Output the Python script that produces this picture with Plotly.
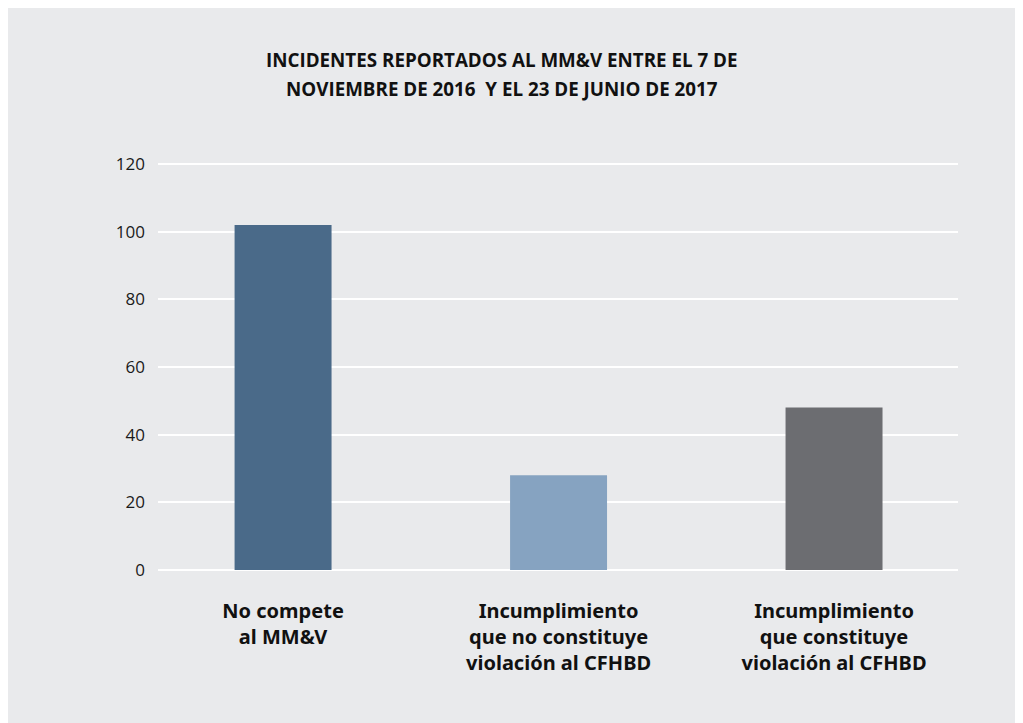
import plotly.graph_objects as go

# datos
categorias = [
    "No compete<br>al MM&V",
    "Incumplimiento<br>que no constituye<br>violación al CFHBD",
    "Incumplimiento<br>que constituye<br>violación al CFHBD",
]
incidentes = [102, 28, 48]
colores = ["#4a6a89", "#86a3c1", "#6c6d71"]
titulo = [
    "INCIDENTES REPORTADOS AL MM&V ENTRE EL 7 DE",
    "NOVIEMBRE DE 2016  Y EL 23 DE JUNIO DE 2017",
]
y_ticks = [0, 20, 40, 60, 80, 100, 120]

fondo = "#e9eaec"

fig = go.Figure()
fig.add_trace(go.Bar(
    x=list(range(len(categorias))),
    y=incidentes,
    marker=dict(color=colores, line=dict(width=0)),
    width=0.352,
    hoverinfo="y",
))

# titulo en dos lineas, con mas interlineado que el de plotly
for texto, yy in zip(titulo, [1.2525, 1.181]):
    fig.add_annotation(text=f"<b>{texto}</b>", xref="paper", yref="paper",
                       x=0.43, y=yy, xanchor="center", yanchor="middle",
                       showarrow=False,
                       font=dict(family="Open Sans", size=18.8, color="#111111"))

fig.update_layout(
    width=1023, height=731,
    margin=dict(l=150, r=73, t=155, b=168),
    paper_bgcolor=fondo,
    plot_bgcolor=fondo,
    showlegend=False,
)
fig.update_xaxes(
    tickmode="array",
    tickvals=list(range(len(categorias))),
    ticktext=[f"<b>{c}</b>" for c in categorias],
    range=[-0.454, 2.45],
    showgrid=False, zeroline=False, showline=False,
    tickfont=dict(family="Noto Sans", size=20, color="#111111"),
    ticklabelstandoff=26,
)
fig.update_yaxes(
    range=[-0.3, 120.3],
    tickvals=y_ticks,
    showgrid=True, gridcolor="white", gridwidth=2,
    zeroline=True, zerolinecolor="white", zerolinewidth=2,
    showline=False,
    tickfont=dict(family="Open Sans", size=17, color="#1a1a1a"),
    ticklabelstandoff=12,
)

fig.write_html("out.html")
